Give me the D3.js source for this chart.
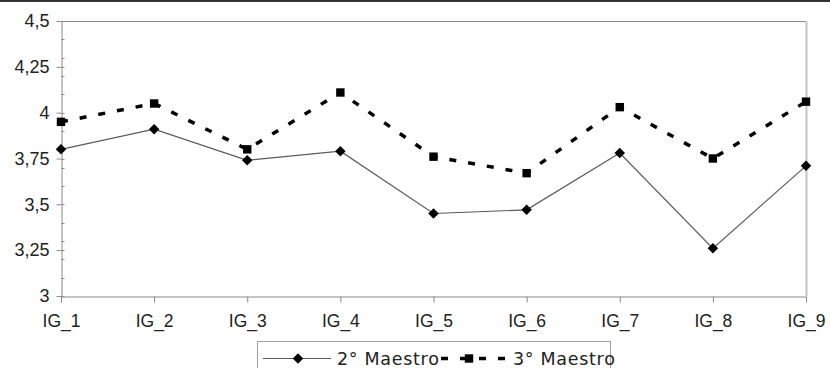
<!DOCTYPE html>
<html>
<head>
<meta charset="utf-8">
<script src="https://cdn.jsdelivr.net/npm/d3@7"></script>
<style>
  html, body { margin: 0; padding: 0; background: #fff; }
  svg { display: block; font-family: "DejaVu Sans", Verdana, sans-serif; }
</style>
</head>
<body>
<svg id="chart" width="830" height="368"></svg>
<script>
// Indicator groups along the x axis
const categories = ["IG_1", "IG_2", "IG_3", "IG_4", "IG_5", "IG_6", "IG_7", "IG_8", "IG_9"];

// Mean scores per course
const seriesNames = ["2\u00b0 Maestro", "3\u00b0 Maestro"];
const maestro2 = [3.80, 3.91, 3.74, 3.79, 3.45, 3.47, 3.78, 3.26, 3.71];
const maestro3 = [3.95, 4.05, 3.80, 4.11, 3.76, 3.67, 4.03, 3.75, 4.06];

// Value axis
const yDomain = [3, 4.5];
const yMajorTicks = [3, 3.25, 3.5, 3.75, 4, 4.25, 4.5];
const yMinorTicks = [3.1, 3.2, 3.3, 3.4, 3.6, 3.7, 3.8, 3.9, 4.1, 4.2, 4.3, 4.4];

const svg = d3.select("#chart");
const W = 830, H = 368;
const plot = { left: 61, right: 806, top: 21, bottom: 296 };

const locale = d3.formatLocale({ decimal: ",", thousands: ".", grouping: [3], currency: ["", "\u20ac"] });
const fmt = locale.format("~g");

const x = d3.scalePoint().domain(categories).range([plot.left, plot.right]).padding(0);
const y = d3.scaleLinear().domain(yDomain).range([plot.bottom, plot.top]);

// frame line along the top edge
svg.append("rect").attr("x", 0).attr("y", 0).attr("width", W).attr("height", 2).attr("fill", "#333");

// plot area border (top and right)
svg.append("line").attr("x1", plot.left).attr("x2", plot.right).attr("y1", plot.top + 0.5).attr("y2", plot.top + 0.5)
  .attr("stroke", "#8a8a8a").attr("stroke-width", 1);
svg.append("line").attr("x1", plot.right + 0.5).attr("x2", plot.right + 0.5).attr("y1", plot.top).attr("y2", plot.bottom)
  .attr("stroke", "#c4c4c4").attr("stroke-width", 2);

// Y axis
const yAxis = svg.append("g")
  .attr("transform", `translate(${plot.left + 0.5},0)`)
  .call(d3.axisLeft(y).tickValues(yMajorTicks).tickFormat(fmt).tickSizeInner(5).tickSizeOuter(0).tickPadding(7));
yAxis.select(".domain").attr("stroke", "#8a8a8a");
yAxis.selectAll(".tick line").attr("stroke", "#8a8a8a");
yAxis.selectAll(".tick text").attr("fill", "#222").style("font-size", "18px");

// inner tick marks (minor and major)
svg.append("g").selectAll("line")
  .data(yMinorTicks.concat(yMajorTicks))
  .join("line")
  .attr("x1", plot.left + 0.5).attr("x2", plot.left + 3.5)
  .attr("y1", d => Math.round(y(d)) + 0.5).attr("y2", d => Math.round(y(d)) + 0.5)
  .attr("stroke", "#8a8a8a");

// X axis
const xAxis = svg.append("g")
  .attr("transform", `translate(0,${plot.bottom + 0.5})`)
  .call(d3.axisBottom(x).tickSizeInner(6).tickSizeOuter(0).tickPadding(12));
xAxis.select(".domain").attr("stroke", "#8a8a8a");
xAxis.selectAll(".tick line").attr("stroke", "#8a8a8a");
xAxis.selectAll(".tick text").attr("fill", "#222").style("font-size", "17.5px");

// series styles
const styles = [
  { values: maestro2, stroke: "#5a5a5a", width: 1.2, dash: null, marker: "diamond" },
  { values: maestro3, stroke: "#000", width: 3.5, dash: "7,12", marker: "square" }
];

const line = d3.line().x((d, i) => x(categories[i])).y(d => y(d));

// marker shapes: a rotated square for the diamond, a plain square otherwise
const diamondShape = d3.symbol().type(d3.symbolSquare2).size(70);
const squareShape = d3.symbol().type(d3.symbolSquare2).size(90);
const markerPath = m => (m === "diamond" ? diamondShape() : squareShape());
const markerRot = m => (m === "diamond" ? " rotate(45)" : "");

styles.forEach(s => {
  svg.append("path")
    .datum(s.values)
    .attr("d", line)
    .attr("fill", "none")
    .attr("stroke", s.stroke)
    .attr("stroke-width", s.width)
    .attr("stroke-dasharray", s.dash);
});

styles.forEach(s => {
  svg.append("g").selectAll("path")
    .data(s.values)
    .join("path")
    .attr("transform", (d, i) => `translate(${x(categories[i])},${y(d)})${markerRot(s.marker)}`)
    .attr("d", markerPath(s.marker))
    .attr("fill", "#000");
});

// legend
const lg = svg.append("g");
lg.append("rect").attr("x", 257.5).attr("y", 341.5).attr("width", 353).attr("height", 40)
  .attr("fill", "#fff").attr("stroke", "#a0a0a0");

const legendItems = [
  { name: seriesNames[0], s: styles[0], x1: 263, x2: 331, mx: 298, tx: 337 },
  { name: seriesNames[1], s: styles[1], x1: 441, x2: 508, mx: 469, tx: 513 }
];
legendItems.forEach(it => {
  lg.append("line").attr("x1", it.x1).attr("x2", it.x2).attr("y1", 358.5).attr("y2", 358.5)
    .attr("stroke", it.s.stroke).attr("stroke-width", it.s.width).attr("stroke-dasharray", it.s.dash);
  lg.append("path")
    .attr("transform", `translate(${it.mx},358.5)${markerRot(it.s.marker)}`)
    .attr("d", markerPath(it.s.marker))
    .attr("fill", "#000");
  lg.append("text").attr("x", it.tx).attr("y", 365).text(it.name)
    .attr("fill", "#222").style("font-size", "17.5px").style("letter-spacing", "0.7px");
});
</script>
</body>
</html>
